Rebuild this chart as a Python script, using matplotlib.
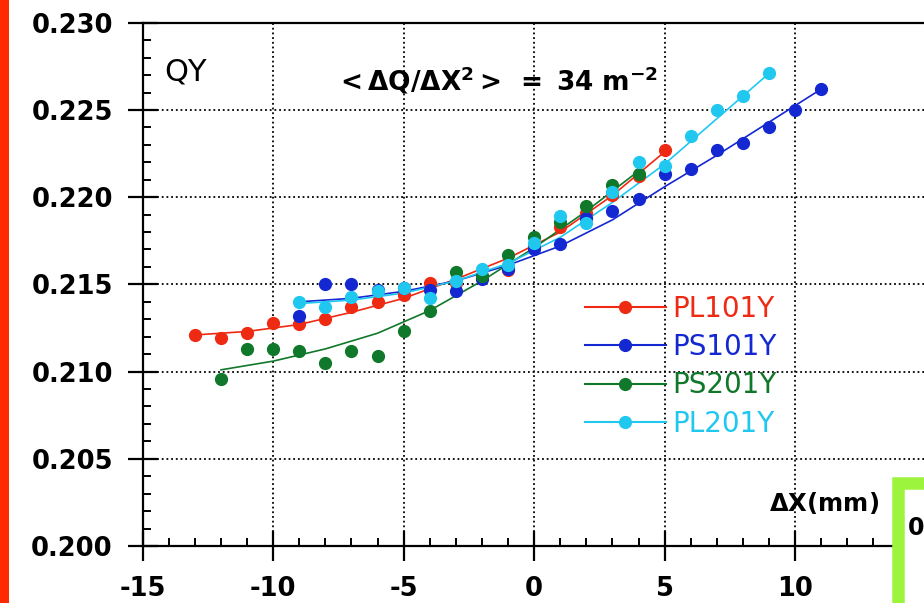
import numpy as np
import matplotlib.pyplot as plt
from matplotlib.patches import Rectangle
from matplotlib.ticker import FixedLocator, MultipleLocator, FormatStrFormatter

plt.rcParams['axes.unicode_minus'] = False
plt.rcParams['mathtext.fontset'] = 'dejavusans'

# measured points
pl101_x = np.arange(-13, 6)
pl101_y = [0.2121, 0.2119, 0.2122, 0.2128, 0.2127, 0.2130, 0.2137, 0.2140, 0.2144, 0.2151,
           0.2151, 0.2155, 0.2158, 0.2172, 0.2183, 0.2191, 0.2201, 0.2212, 0.2227]
ps101_x = np.arange(-9, 12)
ps101_y = [0.2132, 0.2150, 0.2150, 0.2147, 0.2148, 0.2147, 0.2146, 0.2153, 0.2159, 0.2170,
           0.2173, 0.2188, 0.2192, 0.2199, 0.2213, 0.2216, 0.2227, 0.2231, 0.2240, 0.2250, 0.2262]
ps201_x = np.arange(-12, 5)
ps201_y = [0.2096, 0.2113, 0.2113, 0.2112, 0.2105, 0.2112, 0.2109, 0.2123, 0.2135, 0.2157,
           0.2155, 0.2167, 0.2177, 0.2186, 0.2195, 0.2207, 0.2213]
pl201_x = np.arange(-9, 10)
pl201_y = [0.2140, 0.2137, 0.2143, 0.2146, 0.2148, 0.2142, 0.2152, 0.2159, 0.2161, 0.2174,
           0.2189, 0.2185, 0.2203, 0.2220, 0.2218, 0.2235, 0.2250, 0.2258, 0.2271]

# fitted curves
pl101_fx = [-13, -11, -9, -7, -5, -3, -1, 1, 3, 5]
pl101_fy = [0.2121, 0.2123, 0.2127, 0.2134, 0.2142, 0.2153, 0.2165, 0.2180, 0.2201, 0.2226]
ps101_fx = [-9, -7, -5, -3, -1, 1, 3, 5, 7, 9, 11]
ps101_fy = [0.2140, 0.2142, 0.2146, 0.2152, 0.2161, 0.2172, 0.2187, 0.2206, 0.2224, 0.2243, 0.2262]
ps201_fx = [-12, -10, -8, -6, -4, -2, 0, 2, 4]
ps201_fy = [0.2101, 0.2106, 0.2113, 0.2122, 0.2135, 0.2152, 0.2171, 0.2192, 0.2215]
pl201_fx = [-9, -7, -5, -3, -1, 1, 3, 5, 7, 9]
pl201_fy = [0.2139, 0.2141, 0.2145, 0.2152, 0.2162, 0.2177, 0.2197, 0.2219, 0.2245, 0.2271]

x_ticks = [-15, -10, -5, 0, 5, 10]

series = [
    ("PL101Y", "#ee2a12", pl101_x, pl101_y, pl101_fx, pl101_fy),
    ("PS101Y", "#1428d2", ps101_x, ps101_y, ps101_fx, ps101_fy),
    ("PS201Y", "#10782a", ps201_x, ps201_y, ps201_fx, ps201_fy),
    ("PL201Y", "#20c8f0", pl201_x, pl201_y, pl201_fx, pl201_fy),
]

fig = plt.figure(figsize=(9.24, 6.03), dpi=100)
ax = fig.add_axes([0.1544, 0.0945, 0.8474, 0.8678])

handles = []
for name, col, x, y, fx, fy in series:
    ax.plot(fx, fy, color=col, linewidth=1.2, zorder=3)
    ax.plot(x, y, 'o', color=col, markersize=8.5, zorder=4)
    h, = ax.plot([], [], '-o', color=col, linewidth=1.5, markersize=8.5, label=name)
    handles.append(h)

ax.set_xlim(-15, 15)
ax.set_ylim(0.200, 0.230)
ax.xaxis.set_major_locator(FixedLocator(x_ticks))
ax.xaxis.set_minor_locator(MultipleLocator(1))
ax.yaxis.set_major_locator(MultipleLocator(0.005))
ax.yaxis.set_minor_locator(MultipleLocator(0.001))
ax.yaxis.set_major_formatter(FormatStrFormatter('%.3f'))
ax.grid(True, which='major', color='black', linestyle=(0, (1, 1.6)), linewidth=1.3)

ax.tick_params(which='major', direction='inout', length=21, width=1.6, pad=11,
               labelsize=18.5)
ax.tick_params(which='minor', direction='in', length=5.5, width=1.4)
for lab in ax.get_xticklabels() + ax.get_yticklabels():
    lab.set_fontweight('bold')
for sp in ax.spines.values():
    sp.set_linewidth(1.6)

ax.text(0.028, 0.905, "QY", transform=ax.transAxes, fontsize=22, va='center', ha='left')
ax.text(0.245, 0.89, r'$\mathbf{<\Delta Q/\Delta X^{2}>\ =\ 34\ m^{-2}}$',
        transform=ax.transAxes, fontsize=19, va='center', ha='left')
ax.text(0.80, 0.082, r'$\mathbf{\Delta X(mm)}$', transform=ax.transAxes,
        fontsize=17.5, va='center', ha='left')

leg = ax.legend(handles=handles, loc='upper left', bbox_to_anchor=(0.565, 0.48),
                frameon=False, fontsize=20, handlelength=2.9, handletextpad=0.25,
                labelspacing=0.37, borderpad=0, borderaxespad=0, numpoints=1,
                labelcolor='linecolor')

# left red bar and the green box in the corner
fig.patches.append(Rectangle((0, 0), 9 / 924, 1, transform=fig.transFigure,
                             facecolor='#ff2a00', edgecolor='none', zorder=10))
fig.patches.append(Rectangle((898 / 924, -0.05), 0.1, (603 - 483) / 603 + 0.05,
                             transform=fig.transFigure, facecolor='white',
                             edgecolor='#9cf53c', linewidth=9, zorder=10))
fig.text(908 / 924, (603 - 528) / 603, "0", fontsize=17, fontweight='bold',
         va='center', ha='left', zorder=11)

fig.savefig("out.png", dpi=100)
